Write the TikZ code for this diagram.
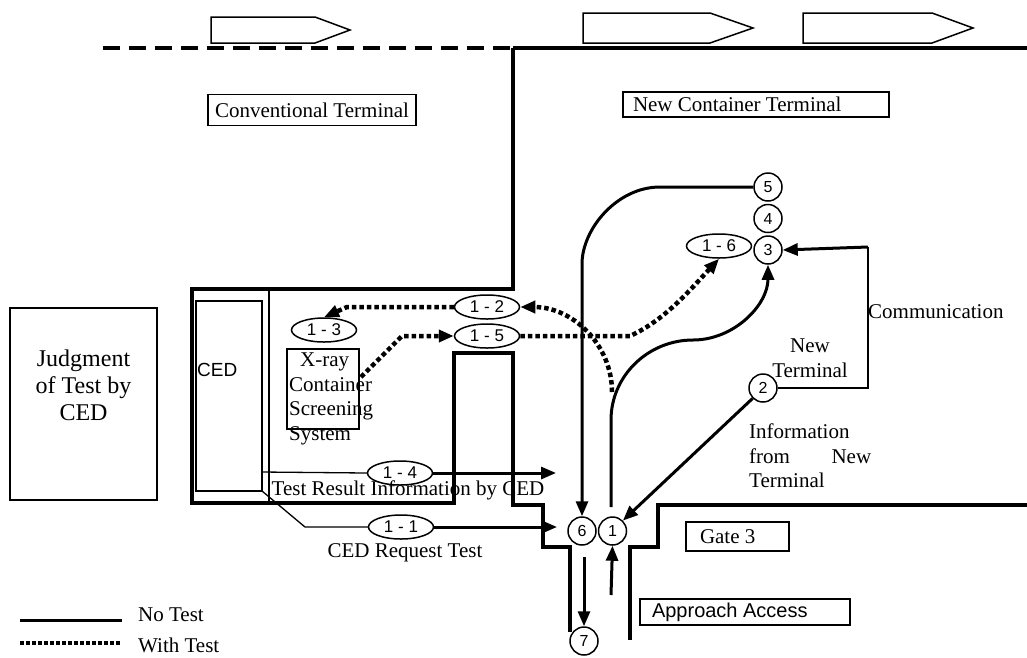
\documentclass[tikz,border=0pt]{standalone}
\usepackage{fontspec}
\setmainfont{Liberation Serif}
\setsansfont{Liberation Sans}
\usetikzlibrary{arrows.meta,shapes.geometric,positioning}
\tikzset{
  wall/.style={line width=4pt},
  road/.style={line width=3pt},
  testroad/.style={line width=4.5pt,dash pattern=on 4.5pt off 3pt},
  thinlink/.style={line width=1.3pt},
  flowtip/.style={-{Triangle[length=15pt,width=12pt]}},
  station/.style={circle,draw,line width=1.5pt,minimum size=28pt,inner sep=0pt,font=\sffamily\fontsize{16}{16}\selectfont},
  flow/.style={ellipse,draw,line width=1.5pt,minimum width=65pt,minimum height=24pt,inner sep=0pt,font=\sffamily\fontsize{17}{17}\selectfont},
  area/.style={draw,line width=1.5pt,inner sep=0pt},
  txt/.style={inner sep=0pt,font=\fontsize{21}{24.5}\selectfont},
}
\begin{document}
\begin{tikzpicture}[x=1pt,y=-1pt]
\useasboundingbox (0,0) rectangle (1027,657);
%
% quay line and ships
\draw[wall,dash pattern=on 17pt off 9pt] (103,48) -- (513,48);
\draw[wall] (513,48) -- (1027,48);
\foreach \xa/\xb/\xc/\ya/\ym in {211/315/350/17/30,583/710/753/13/28,803/932/973/13/28}
\draw[line width=1.5pt] (\xa,\ya) -- (\xb,\ya) -- (\xc,\ym) -- (\xb,43) -- (\xa,43) -- cycle;
%
% terminal walls
\draw[wall] (513,48) -- (513,289) -- (192,289) -- (192,503) -- (454,503) -- (454,353)
  -- (513,353) -- (513,505) -- (543,505) -- (543,547) -- (570,547) -- (570,632);
\draw[wall] (630,640) -- (630,547) -- (658,547) -- (658,505) -- (1027,505);
%
% areas
\node[area,txt,minimum width=208pt,minimum height=31pt] (conv) at (312,110) {Conventional Terminal};
\node[area,txt,minimum height=25pt,text width=246pt,inner xsep=10pt,align=flush left] (newct) at (756,104.5) {New Container Terminal};
\node[area,txt,minimum height=29pt,text width=75pt,inner xsep=14pt,align=flush left] (gate) at (737.5,536.5) {Gate 3};
\node[area,minimum height=26pt,text width=186pt,inner xsep=12pt,align=flush left,font=\sffamily\fontsize{20}{20}\selectfont] (approach) at (745,612) {Approach Access};
\node[area,line width=2pt,minimum width=147pt,minimum height=192pt] (judge) at (83.5,404) {};
\node[inner sep=0pt,align=center,font=\fontsize{24}{27}\selectfont] (judgetxt) at (83.5,385) {Judgment\\of Test by\\CED};
\node[area,minimum width=66pt,minimum height=190pt] (ced) at (229,396) {};
\node[inner sep=0pt,anchor=west,font=\sffamily\fontsize{19}{19}\selectfont] (cedtxt) at (197,370) {CED};
\draw[thinlink] (269,287) -- (269,503);
\node[area,minimum width=72pt,minimum height=80pt] (xray) at (323,389) {};
\node[txt,anchor=north west,align=left] (xraytxt) at (289,353) {\hspace*{11pt}X-ray\\Container\\Screening\\System};
%
% flow numbers
\node[flow] (e12) at (487,307) {1 - 2};
\node[flow] (e15) at (487,336) {1 - 5};
\node[flow] (e13) at (324,330) {1 - 3};
\node[flow] (e14) at (400,473) {1 - 4};
\node[flow] (e11) at (401,527) {1 - 1};
\node[flow] (e16) at (719,246) {1 - 6};
\node[station] (c5) at (768,187) {5};
\node[station,below=2pt of c5] (c4) {4};
\node[station,below=2pt of c4] (c3) {3};
\node[station] (c2) at (763,388) {2};
\node[station] (c6) at (582,531) {6};
\node[station,right=1pt of c6] (c1) {1};
\node[station] (c7) at (584,641) {7};
%
% free ends
\coordinate (r1) at (611,507);
\coordinate (t12) at (612,392);
\coordinate (x15) at (361,377);
\coordinate (e14end) at (556,473);
\coordinate (e11end) at (557,527);
\coordinate (out7) at (584,557);
\coordinate (in1) at (611,595);
\coordinate (cedA) at (262,472);
\coordinate (cedB) at (262,491);
\coordinate (bend) at (305,527);
\coordinate (comm) at (868,247);
%
% no test
\draw[road,flowtip] (c5.west) -- (660,187) .. controls (617,187) and (582,229) .. (582,264) -- (c6.north);
\draw[road,flowtip] (r1) -- (611,420) .. controls (611,376) and (648,340) .. (693,340)
  .. controls (734,340) and (768,305) .. (c3.south);
\draw[road,flowtip] (c2.south west) -- (c1.north east);
\draw[thinlink] (c2.east) -- (c2.east -| comm) -- (comm);
\draw[road,flowtip] (comm) -- (c3.east);
\draw[road,flowtip] (out7) -- (c7.north);
\draw[road,flowtip] (in1) -- (c1.south);
\draw[thinlink] (cedA) -- (e14.west);
\draw[road,flowtip] (e14.east) -- (e14end);
\draw[thinlink] (cedB) -- (bend) -- (e11.west);
\draw[road,flowtip] (e11.east) -- (e11end);
%
% with test
\draw[testroad,flowtip] (t12) .. controls (612,344) and (572,307) .. (e12.east);
\draw[testroad,flowtip] (e12.west) -- (347,307) -- (e13.north);
\draw[testroad,flowtip] (x15) -- (402,336) -- (e15.west);
\draw[testroad,flowtip] (e15.east) -- (630,336) .. controls (665,320) and (690,290) .. (e16.south);
%
% texts
\node[txt,anchor=west] (commtxt) at (868,312) {Communication};
\node[txt,align=center] (newtxt) at (810,358) {New\\Terminal};
\node[txt,anchor=north west,align=left] (infotxt) at (749,424) {Information\\\makebox[122pt][s]{from New}\\Terminal};
\node[txt] (reqtxt) at (405,553) {CED Request Test};
\node[txt] (restxt) at (408,490) {Test Result Information by CED};
%
% legend
\draw[road] (20,620) -- (122,620);
\draw[line width=4pt,dash pattern=on 3.5pt off 2.5pt] (20,643) -- (120,643);
\node[txt,anchor=west] (notest) at (138,615) {No Test};
\node[txt,anchor=west] (withtest) at (138,645) {With Test};
\end{tikzpicture}
\end{document}
